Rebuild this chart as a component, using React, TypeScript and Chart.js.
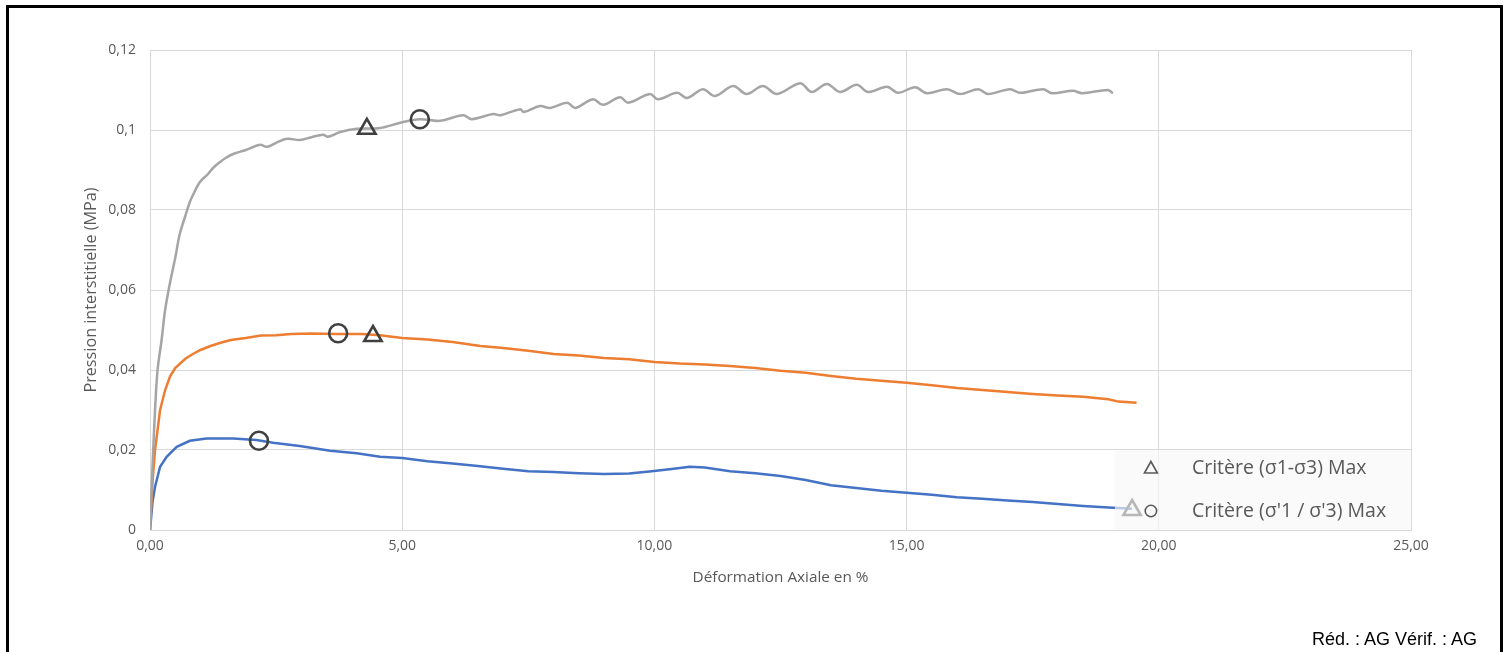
import React, { useEffect, useRef } from "react";
import { Chart, registerables } from "chart.js";

Chart.register(...registerables);

// ---- data ----
const GREY_X = [0, 0.05, 0.1, 0.15, 0.23, 0.3, 0.4, 0.5, 0.59, 0.7, 0.79, 0.9, 0.99, 1.15, 1.25, 1.39, 1.5, 1.65, 1.9, 2.18, 2.32, 2.5, 2.72, 2.97, 3.2, 3.43, 3.53, 3.77, 4.1, 4.56, 4.96, 5.35, 5.75, 6.21, 6.38, 6.8, 6.95, 7.34, 7.41, 7.73, 7.93, 8.27, 8.43, 8.78, 8.98, 9.32, 9.48, 9.91, 10.07, 10.45, 10.65, 10.96, 11.2, 11.56, 11.83, 12.15, 12.43, 12.89, 13.12, 13.42, 13.68, 14.01, 14.24, 14.61, 14.83, 15.17, 15.4, 15.8, 16.06, 16.42, 16.61, 17.05, 17.25, 17.71, 17.88, 18.3, 18.48, 18.99, 19.09];
const GREY_Y = [0, 0.016, 0.03, 0.04, 0.0475, 0.055, 0.062, 0.068, 0.074, 0.0785, 0.082, 0.085, 0.087, 0.089, 0.0905, 0.092, 0.093, 0.094, 0.095, 0.0963, 0.0958, 0.0968, 0.0978, 0.0975, 0.0982, 0.0988, 0.0983, 0.0995, 0.1003, 0.1005, 0.1018, 0.1027, 0.1023, 0.1037, 0.1027, 0.104, 0.1037, 0.1052, 0.1045, 0.106, 0.1055, 0.1068, 0.1055, 0.1077, 0.1063, 0.1082, 0.1068, 0.109, 0.1077, 0.1093, 0.108, 0.1102, 0.1085, 0.111, 0.109, 0.111, 0.109, 0.1117, 0.1095, 0.1115, 0.1095, 0.1113, 0.1095, 0.1108, 0.1093, 0.1107, 0.1092, 0.1102, 0.109, 0.1102, 0.109, 0.1102, 0.1093, 0.1102, 0.1092, 0.1098, 0.1092, 0.11, 0.1092];

const ORANGE_X = [0, 0.05, 0.1, 0.2, 0.3, 0.4, 0.5, 0.7, 0.85, 1.0, 1.2, 1.4, 1.6, 1.9, 2.2, 2.5, 2.8, 3.2, 3.7, 4.2, 4.56, 5.0, 5.5, 6.0, 6.55, 7.0, 7.5, 8.0, 8.5, 9.0, 9.5, 10.0, 10.5, 11.0, 11.5, 12.0, 12.5, 13.0, 13.5, 14.0, 14.5, 15.0, 15.5, 16.0, 16.5, 17.0, 17.5, 18.0, 18.5, 19.0, 19.2, 19.56];
const ORANGE_Y = [0, 0.012, 0.02, 0.03, 0.035, 0.0385, 0.0405, 0.0428, 0.044, 0.045, 0.046, 0.0468, 0.0475, 0.048, 0.0486, 0.0487, 0.049, 0.0491, 0.049, 0.049, 0.0487, 0.048, 0.0476, 0.047, 0.046, 0.0455, 0.0448, 0.044, 0.0436, 0.043, 0.0427, 0.042, 0.0416, 0.0414, 0.041, 0.0405, 0.0398, 0.0393, 0.0385, 0.0378, 0.0373, 0.0368, 0.0362, 0.0355, 0.035, 0.0345, 0.034, 0.0336, 0.0333, 0.0327, 0.0321, 0.0318];

const BLUE_X = [0, 0.05, 0.1, 0.2, 0.33, 0.53, 0.79, 1.12, 1.65, 2.11, 2.44, 2.97, 3.57, 4.1, 4.56, 5.0, 5.5, 6.0, 6.5, 7.0, 7.5, 8.0, 8.5, 9.0, 9.5, 9.9, 10.3, 10.7, 11.0, 11.5, 12.0, 12.5, 13.0, 13.5, 14.0, 14.5, 15.0, 15.5, 16.0, 16.5, 17.0, 17.5, 18.0, 18.5, 19.0, 19.47];
const BLUE_Y = [0, 0.007, 0.0108, 0.0158, 0.0183, 0.0208, 0.0223, 0.0229, 0.0229, 0.0225, 0.0218, 0.021, 0.0198, 0.0192, 0.0183, 0.018, 0.0172, 0.0166, 0.016, 0.0153, 0.0147, 0.0145, 0.0142, 0.014, 0.0141, 0.0146, 0.0152, 0.0158, 0.0156, 0.0147, 0.0142, 0.0135, 0.0125, 0.0112, 0.0105, 0.0098, 0.0093, 0.0088, 0.0082, 0.0078, 0.0074, 0.007, 0.0065, 0.006, 0.0056, 0.0053];

// Critère (σ1-σ3) Max  -> triangles
const TRI_X = [4.3, 4.42, 19.47];
const TRI_Y = [0.1003, 0.0485, 0.005];
// Critère (σ'1 / σ'3) Max -> circles
const CIRC_X = [5.35, 3.73, 2.16];
const CIRC_Y = [0.1027, 0.0492, 0.0223];

const LEGEND_LABELS = ["Critère (σ1-σ3) Max", "Critère (σ'1 / σ'3) Max"];
const X_TITLE = "Déformation Axiale en %";
const Y_TITLE = "Pression interstitielle (MPa)";
const FOOTER = "Réd. : AG Vérif. : AG";

const pts = (xs: number[], ys: number[]) => xs.map((x, i) => ({ x, y: ys[i] }));

const FONT = "'Open Sans', sans-serif";
const TXT = "#595959";

const boxLegend = {
  id: "boxLegend",
  afterDatasetsDraw(chart: any) {
    const { ctx, chartArea, scales } = chart;
    const x0 = scales.x.getPixelForValue(19.13);
    const y0 = scales.y.getPixelForValue(0.02);
    const x1 = chartArea.right;
    const y1 = chartArea.bottom;
    ctx.save();
    ctx.fillStyle = "rgba(248,248,248,0.65)";
    ctx.fillRect(x0, y0, x1 - x0, y1 - y0);
    const rows = [y0 + 18, y0 + 61];
    const sx = x0 + 36;
    ctx.strokeStyle = "#5a5a5a";
    ctx.lineWidth = 1.6;
    // triangle
    ctx.beginPath();
    ctx.moveTo(sx, rows[0] - 6.5);
    ctx.lineTo(sx + 6.5, rows[0] + 5);
    ctx.lineTo(sx - 6.5, rows[0] + 5);
    ctx.closePath();
    ctx.stroke();
    // circle
    ctx.beginPath();
    ctx.arc(sx, rows[1], 5.7, 0, Math.PI * 2);
    ctx.stroke();
    ctx.fillStyle = TXT;
    ctx.font = `19.5px ${FONT}`;
    ctx.textBaseline = "middle";
    ctx.textAlign = "left";
    LEGEND_LABELS.forEach((t, i) => ctx.fillText(t, x0 + 77, rows[i]));
    ctx.restore();
  },
};

export default function App() {
  const ref = useRef<HTMLCanvasElement | null>(null);
  useEffect(() => {
    if (!ref.current) return;
    const chart = new Chart(ref.current, {
      type: "scatter",
      data: {
        datasets: [
          {
            label: LEGEND_LABELS[0],
            data: pts(TRI_X, TRI_Y),
            pointStyle: "triangle",
            pointRadius: 10,
            pointBorderWidth: 2.6,
            borderColor: "#404040",
            backgroundColor: "rgba(0,0,0,0)",
            showLine: false,
            order: 0,
          },
          {
            label: LEGEND_LABELS[1],
            data: pts(CIRC_X, CIRC_Y),
            pointStyle: "circle",
            pointRadius: 9,
            pointBorderWidth: 2.6,
            borderColor: "#404040",
            backgroundColor: "rgba(0,0,0,0)",
            showLine: false,
            order: 0,
          },
          {
            label: "gris",
            data: pts(GREY_X, GREY_Y),
            showLine: true,
            borderColor: "#a5a5a5",
            borderWidth: 2.5,
            pointRadius: 0,
            tension: 0.35,
            order: 1,
          },
          {
            label: "orange",
            data: pts(ORANGE_X, ORANGE_Y),
            showLine: true,
            borderColor: "#ed7d31",
            borderWidth: 2.5,
            pointRadius: 0,
            order: 1,
          },
          {
            label: "bleu",
            data: pts(BLUE_X, BLUE_Y),
            showLine: true,
            borderColor: "#4472c4",
            borderWidth: 2.5,
            pointRadius: 0,
            order: 1,
          },
        ],
      },
      options: {
        animation: false,
        responsive: false,
        maintainAspectRatio: false,
        layout: { padding: { left: 0, top: 50, right: 96, bottom: 0 } },
        plugins: { legend: { display: false }, tooltip: { enabled: false } },
        scales: {
          x: {
            type: "linear",
            min: 0,
            max: 25,
            afterFit: (s: any) => { s.height = 122; },
            ticks: {
              stepSize: 5,
              padding: 8,
              color: TXT,
              font: { family: FONT, size: 14 },
              callback: (v: any) => Number(v).toFixed(2).replace(".", ","),
            },
            grid: { color: "#d9d9d9", drawTicks: false, lineWidth: 1 },
            border: { color: "#d9d9d9" },
            title: {
              display: true,
              text: X_TITLE,
              color: TXT,
              font: { family: FONT, size: 15.3 },
              padding: { top: 0, bottom: 65 },
            },
          },
          y: {
            type: "linear",
            min: 0,
            max: 0.12,
            afterFit: (s: any) => { s.width = 150; },
            ticks: {
              stepSize: 0.02,
              padding: 14,
              color: TXT,
              font: { family: FONT, size: 14 },
              callback: (v: any) => (Number(v) === 0 ? "0" : String(+Number(v).toFixed(2)).replace(".", ",")),
            },
            grid: { color: "#d9d9d9", drawTicks: false, lineWidth: 1 },
            border: { color: "#d9d9d9" },
            title: {
              display: true,
              text: Y_TITLE,
              color: TXT,
              font: { family: FONT, size: 16.2 },
              padding: { top: 82, bottom: 0 },
            },
          },
        },
      },
      plugins: [boxLegend],
    });
    return () => chart.destroy();
  }, []);

  return (
    <>
      <div
        style={{
          position: "fixed",
          left: 6,
          top: 5,
          width: 1497,
          height: 660,
          borderTop: "3px solid #000",
          borderLeft: "3px solid #000",
          borderRight: "3px solid #000",
          boxSizing: "border-box",
        }}
      />
      <canvas ref={ref} width={1507} height={652} style={{ position: "fixed", left: 0, top: 0, width: 1507, height: 652 }} />
      <div
        style={{
          position: "fixed",
          right: 30,
          top: 630,
          fontFamily: "'Liberation Sans', Arial, sans-serif",
          fontSize: 18,
          lineHeight: "18px",
          color: "#000",
          whiteSpace: "nowrap",
        }}
      >
        {FOOTER}
      </div>
    </>
  );
}
